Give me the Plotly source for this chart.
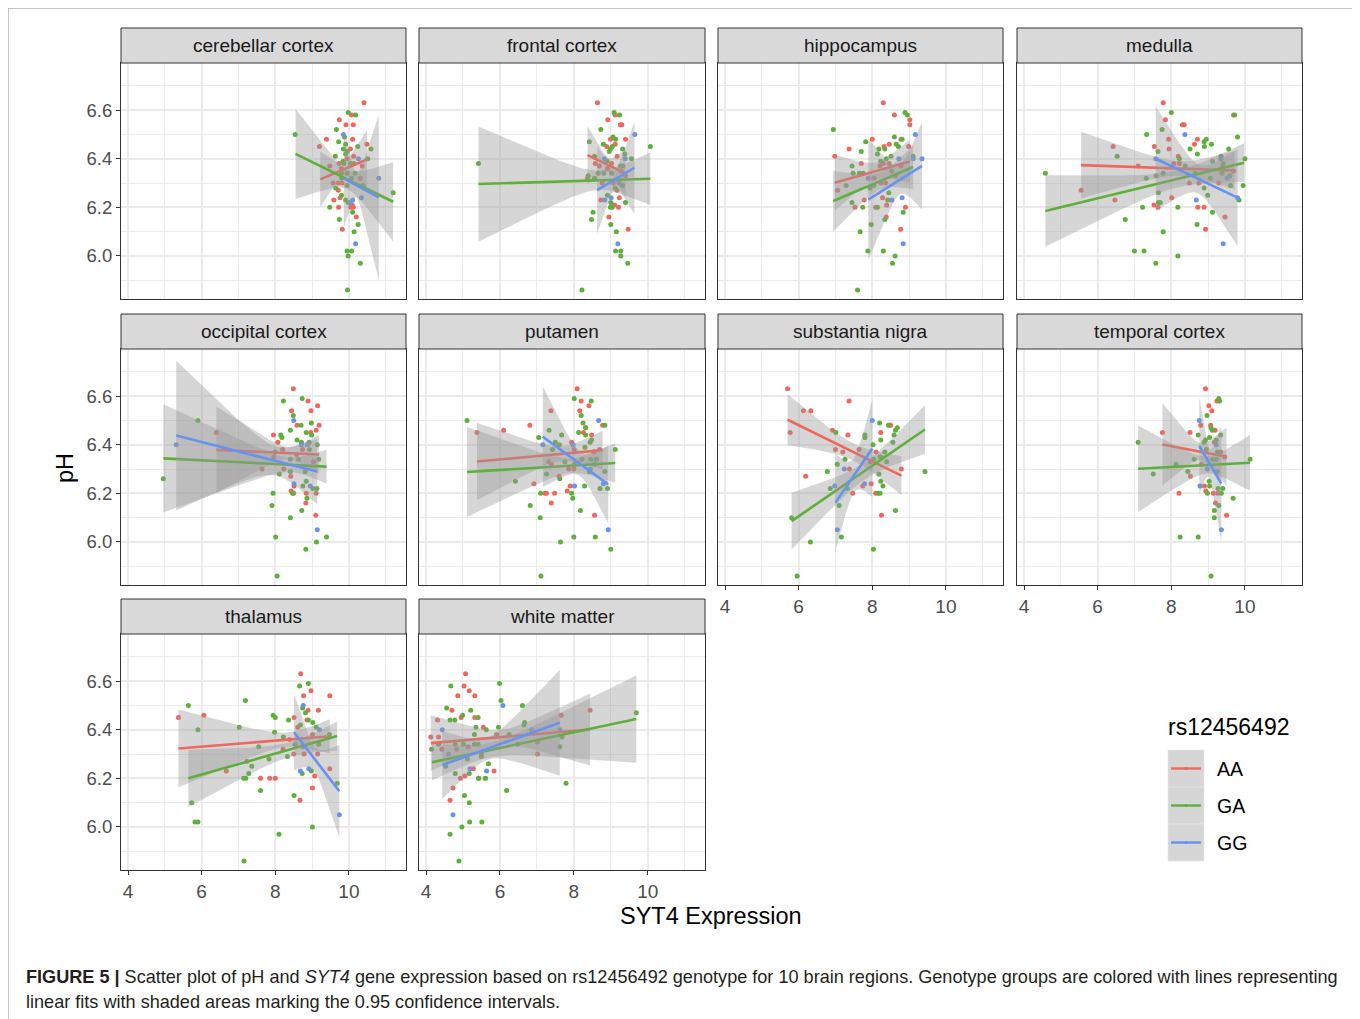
import numpy as np
import plotly.graph_objects as go

W, H = 1360, 1019

regions = ["cerebellar cortex", "frontal cortex", "hippocampus", "medulla",
           "occipital cortex", "putamen", "substantia nigra", "temporal cortex",
           "thalamus", "white matter"]
genotypes = ["AA", "GA", "GG"]
geno_colors = {"AA": "#EF675E", "GA": "#5EAF3B", "GG": "#6892F0"}
x_ticks = [4, 6, 8, 10]
y_ticks = [6.0, 6.2, 6.4, 6.6]
x_range = [3.81, 11.55]
y_range = [5.823, 6.794]

# ---- points: (SYT4 expression, pH) per region and genotype ----
cerebellar_AA = [(10.41,6.63),(10.07,6.58),(9.74,6.56),(9.92,6.54),(10.12,6.54),(9.39,6.48),(10.10,6.48),(9.20,6.45),(10.49,6.46),(10.04,6.44),(10.13,6.41),(9.48,6.37),(9.73,6.38),(10.36,6.37),(10.31,6.32),(9.57,6.30),(9.71,6.30),(9.81,6.30),(9.71,6.27),(9.59,6.23),(9.76,6.24),(9.72,6.20),(10.05,6.20),(10.09,6.21),(10.12,6.20),(10.20,6.16),(9.82,6.11),(9.80,6.36),(9.95,6.40)]
cerebellar_GA = [(9.98,6.59),(10.18,6.58),(9.66,6.52),(8.54,6.50),(9.88,6.49),(9.72,6.47),(9.91,6.46),(10.24,6.45),(9.85,6.44),(10.60,6.44),(9.95,6.43),(9.91,6.42),(9.63,6.41),(10.51,6.40),(9.84,6.39),(9.86,6.38),(10.04,6.38),(10.13,6.38),(9.80,6.34),(9.95,6.34),(10.17,6.34),(10.07,6.32),(9.80,6.32),(10.38,6.29),(9.95,6.29),(9.64,6.28),(9.80,6.25),(9.91,6.23),(9.98,6.22),(9.48,6.20),(10.10,6.18),(9.74,6.15),(10.25,6.13),(10.14,6.10),(9.95,6.02),(10.07,6.02),(9.98,6.00),(10.31,5.97),(9.96,5.86),(11.20,6.26)]
cerebellar_GG = [(9.85,6.50),(10.26,6.40),(10.81,6.32),(10.10,6.23),(10.34,6.24),(10.18,6.05),(10.04,6.22)]

frontal_AA = [(8.64,6.63),(8.92,6.56),(9.12,6.58),(9.26,6.54),(9.30,6.54),(8.99,6.48),(9.40,6.48),(8.89,6.45),(9.12,6.46),(9.17,6.41),(8.58,6.38),(8.69,6.37),(9.02,6.38),(8.91,6.36),(9.28,6.35),(8.37,6.32),(8.77,6.30),(9.07,6.30),(9.17,6.27),(8.73,6.23),(9.23,6.24),(9.10,6.21),(9.21,6.20),(8.95,6.16),(9.47,6.11),(9.40,6.33)]
frontal_GA = [(9.09,6.59),(9.24,6.58),(8.73,6.52),(9.06,6.49),(9.13,6.48),(8.42,6.47),(8.80,6.46),(8.99,6.44),(9.04,6.45),(9.32,6.44),(9.38,6.42),(8.96,6.43),(8.56,6.41),(9.56,6.40),(5.42,6.38),(10.07,6.45),(8.90,6.39),(9.26,6.37),(9.32,6.37),(8.66,6.34),(8.81,6.34),(9.02,6.34),(8.39,6.33),(8.56,6.32),(9.12,6.28),(9.32,6.29),(8.91,6.25),(9.00,6.22),(8.99,6.20),(9.04,6.20),(9.40,6.22),(8.52,6.18),(8.48,6.15),(9.00,6.13),(9.15,6.10),(9.13,6.02),(9.27,6.02),(9.27,6.00),(9.46,5.97),(8.22,5.86)]
frontal_GG = [(9.65,6.50),(8.83,6.40),(9.39,6.40),(8.84,6.23),(9.01,6.24),(9.19,6.05),(9.22,6.30)]

hippocampus_AA = [(8.30,6.63),(8.60,6.58),(9.02,6.56),(9.02,6.54),(8.00,6.48),(8.78,6.48),(7.37,6.44),(8.32,6.45),(8.46,6.46),(8.99,6.45),(6.98,6.41),(7.70,6.38),(8.21,6.37),(8.30,6.38),(8.46,6.38),(8.78,6.37),(7.06,6.27),(8.05,6.32),(8.23,6.30),(8.36,6.30),(7.78,6.23),(7.53,6.20),(8.09,6.20),(8.28,6.24),(8.39,6.21),(8.90,6.20),(8.38,6.16),(8.77,6.11)]
hippocampus_GA = [(8.89,6.59),(8.95,6.58),(6.94,6.52),(8.60,6.49),(8.81,6.48),(7.82,6.47),(8.65,6.46),(8.71,6.45),(8.18,6.44),(8.34,6.44),(7.70,6.43),(8.14,6.42),(8.51,6.41),(9.11,6.41),(8.38,6.40),(8.23,6.39),(7.45,6.37),(7.48,6.34),(7.65,6.34),(7.75,6.34),(7.29,6.29),(7.94,6.28),(8.04,6.29),(8.53,6.35),(8.63,6.33),(8.45,6.26),(7.45,6.22),(7.74,6.20),(8.42,6.23),(8.14,6.20),(8.84,6.18),(8.34,6.15),(7.97,6.13),(7.67,6.10),(7.88,6.02),(8.30,6.02),(8.62,6.00),(8.55,5.97),(7.60,5.86)]
hippocampus_GG = [(9.17,6.50),(8.72,6.40),(9.11,6.40),(9.35,6.40),(7.89,6.32),(8.53,6.23),(8.81,6.24),(8.84,6.05)]

medulla_AA = [(7.78,6.63),(7.84,6.56),(8.30,6.54),(8.35,6.54),(9.69,6.58),(7.93,6.48),(8.71,6.48),(8.63,6.46),(6.42,6.45),(7.54,6.45),(7.94,6.44),(8.19,6.41),(8.07,6.38),(8.22,6.38),(7.10,6.37),(9.40,6.37),(9.69,6.35),(5.55,6.27),(6.47,6.23),(8.01,6.24),(7.53,6.21),(7.64,6.20),(8.49,6.30),(8.75,6.30),(9.29,6.30),(8.72,6.20),(8.89,6.20),(9.46,6.16),(8.93,6.11)]
medulla_GA = [(8.00,6.59),(9.72,6.58),(7.75,6.52),(7.33,6.50),(9.80,6.49),(8.89,6.47),(8.95,6.48),(9.09,6.46),(8.90,6.45),(9.56,6.44),(7.64,6.43),(8.51,6.44),(8.71,6.42),(6.53,6.41),(9.35,6.41),(8.22,6.40),(10.00,6.40),(9.12,6.39),(8.38,6.37),(9.41,6.38),(4.58,6.34),(7.78,6.34),(7.59,6.33),(8.65,6.34),(9.38,6.34),(9.59,6.33),(7.32,6.32),(9.06,6.32),(9.61,6.29),(9.95,6.29),(8.89,6.28),(7.65,6.26),(8.99,6.25),(9.84,6.23),(7.65,6.22),(7.70,6.22),(7.22,6.20),(8.18,6.20),(9.12,6.18),(6.75,6.15),(8.70,6.13),(7.78,6.10),(7.00,6.02),(7.26,6.02),(8.18,6.00),(7.58,5.97)]
medulla_GG = [(8.37,6.50),(7.58,6.40),(9.35,6.40),(9.52,6.32),(8.68,6.23),(9.80,6.24),(9.41,6.05)]

occipital_AA = [(8.49,6.63),(8.89,6.58),(9.15,6.56),(8.44,6.54),(8.97,6.54),(8.59,6.48),(9.19,6.48),(8.96,6.45),(9.11,6.46),(6.40,6.45),(7.95,6.44),(8.07,6.41),(8.20,6.38),(8.74,6.38),(8.58,6.36),(7.96,6.35),(9.04,6.33),(7.64,6.30),(8.23,6.30),(8.42,6.27),(8.51,6.23),(8.43,6.21),(8.50,6.20),(8.84,6.20),(9.11,6.20),(8.83,6.16),(9.10,6.11)]
occipital_GA = [(8.22,6.58),(8.73,6.59),(8.49,6.52),(8.98,6.49),(5.90,6.50),(8.70,6.48),(8.41,6.46),(8.84,6.45),(8.99,6.44),(8.15,6.44),(8.18,6.43),(8.59,6.42),(8.71,6.41),(8.92,6.41),(9.14,6.40),(8.93,6.38),(8.00,6.37),(8.41,6.34),(8.63,6.34),(9.18,6.34),(4.96,6.26),(8.11,6.28),(8.81,6.29),(8.41,6.29),(8.84,6.25),(8.75,6.23),(9.02,6.22),(9.13,6.22),(7.94,6.20),(8.47,6.20),(8.86,6.18),(7.91,6.15),(8.72,6.13),(8.41,6.10),(8.01,6.02),(9.12,6.00),(9.39,6.02),(8.83,5.97),(8.05,5.86)]
occipital_GG = [(5.31,6.40),(8.50,6.50),(8.71,6.40),(8.87,6.40),(8.51,6.24),(8.95,6.23),(9.14,6.05)]

putamen_AA = [(8.09,6.63),(8.20,6.58),(8.41,6.56),(8.16,6.54),(7.38,6.54),(6.81,6.48),(8.78,6.48),(6.10,6.46),(5.38,6.45),(8.26,6.45),(8.32,6.47),(8.48,6.44),(7.94,6.41),(8.01,6.38),(8.54,6.37),(8.70,6.38),(7.32,6.33),(7.39,6.32),(7.86,6.30),(8.00,6.30),(7.60,6.27),(6.92,6.24),(7.90,6.23),(7.82,6.21),(7.22,6.20),(7.26,6.20),(7.48,6.20),(7.39,6.16),(8.56,6.11)]
putamen_GA = [(5.11,6.50),(8.01,6.59),(8.47,6.58),(8.20,6.52),(8.25,6.49),(8.84,6.48),(8.32,6.47),(7.33,6.46),(8.13,6.45),(7.05,6.43),(7.67,6.44),(8.32,6.44),(8.48,6.42),(8.44,6.41),(7.50,6.41),(7.61,6.40),(8.30,6.39),(9.12,6.38),(7.42,6.38),(8.61,6.34),(8.46,6.34),(8.22,6.34),(7.76,6.33),(8.02,6.32),(8.56,6.32),(8.84,6.29),(8.42,6.29),(7.26,6.28),(7.62,6.26),(6.42,6.25),(8.29,6.23),(8.71,6.22),(8.91,6.22),(7.10,6.20),(7.94,6.20),(7.97,6.18),(6.82,6.15),(8.18,6.13),(7.09,6.10),(8.00,6.02),(8.58,6.02),(7.64,6.00),(9.00,5.97),(7.11,5.86)]
putamen_GG = [(8.67,6.50),(7.16,6.40),(7.98,6.40),(8.02,6.23),(8.80,6.24),(8.93,6.05),(8.45,6.30)]

nigra_AA = [(5.70,6.63),(7.37,6.58),(6.13,6.54),(6.33,6.54),(5.77,6.45),(6.92,6.46),(7.34,6.44),(8.23,6.45),(8.47,6.48),(8.50,6.48),(7.00,6.38),(7.20,6.37),(7.64,6.38),(8.10,6.37),(8.23,6.35),(7.95,6.33),(7.38,6.30),(8.79,6.30),(6.19,6.27),(7.74,6.23),(7.97,6.24),(7.47,6.20),(8.09,6.20),(8.25,6.11)]
nigra_GA = [(8.20,6.49),(8.44,6.48),(8.68,6.47),(8.63,6.46),(7.01,6.45),(7.80,6.44),(7.80,6.43),(8.59,6.44),(8.23,6.42),(8.56,6.41),(8.02,6.40),(8.34,6.37),(7.26,6.34),(8.04,6.34),(8.21,6.35),(8.39,6.33),(7.05,6.32),(6.78,6.29),(9.43,6.29),(8.18,6.28),(8.23,6.25),(8.29,6.23),(6.86,6.22),(7.32,6.22),(8.16,6.20),(8.21,6.20),(7.10,6.15),(8.63,6.13),(5.81,6.10),(7.16,6.02),(6.32,6.00),(8.03,5.97),(5.96,5.86)]
nigra_GG = [(8.00,6.50),(7.24,6.30),(6.98,6.23),(7.79,6.24),(7.05,6.05)]

temporal_AA = [(8.93,6.63),(9.02,6.56),(9.10,6.54),(9.24,6.58),(8.80,6.48),(9.07,6.48),(9.19,6.46),(7.76,6.45),(8.51,6.45),(9.17,6.41),(9.34,6.37),(9.45,6.35),(8.82,6.32),(8.52,6.27),(8.90,6.23),(8.94,6.21),(9.14,6.20),(9.26,6.20),(8.21,6.20),(9.20,6.16),(9.50,6.11)]
temporal_GA = [(9.29,6.59),(9.31,6.58),(8.97,6.52),(9.08,6.47),(9.11,6.46),(8.73,6.44),(9.04,6.43),(8.93,6.42),(9.34,6.44),(7.10,6.41),(9.22,6.42),(8.89,6.41),(8.95,6.38),(9.25,6.37),(8.62,6.34),(9.12,6.34),(9.22,6.34),(10.14,6.34),(8.13,6.32),(7.51,6.28),(8.45,6.29),(9.25,6.29),(9.03,6.25),(9.04,6.23),(9.27,6.22),(9.40,6.22),(8.98,6.20),(9.36,6.20),(9.68,6.18),(9.29,6.15),(9.17,6.13),(9.17,6.10),(8.24,6.02),(8.73,6.02),(9.08,5.86)]
temporal_GG = [(8.76,6.50),(9.22,6.40),(8.98,6.30),(8.78,6.23),(9.36,6.05)]

thalamus_AA = [(8.69,6.63),(8.77,6.54),(8.97,6.56),(9.48,6.54),(5.37,6.45),(6.06,6.46),(8.51,6.45),(8.89,6.48),(9.17,6.48),(8.86,6.44),(8.61,6.41),(8.39,6.36),(9.01,6.38),(8.75,6.33),(8.21,6.32),(8.50,6.30),(8.78,6.30),(9.15,6.30),(7.23,6.27),(6.67,6.23),(7.60,6.20),(7.85,6.20),(8.00,6.20),(9.48,6.24),(9.07,6.21),(9.01,6.16),(8.67,6.11)]
thalamus_GA = [(8.66,6.58),(8.90,6.59),(5.64,6.50),(7.19,6.52),(8.74,6.49),(8.82,6.47),(7.94,6.46),(8.00,6.45),(8.36,6.44),(8.90,6.44),(9.02,6.43),(8.68,6.42),(9.11,6.41),(5.90,6.40),(7.02,6.41),(7.98,6.39),(8.22,6.37),(9.47,6.38),(7.55,6.33),(8.54,6.34),(9.18,6.34),(7.83,6.28),(8.33,6.29),(7.36,6.25),(7.28,6.22),(7.14,6.20),(7.20,6.20),(8.73,6.22),(8.98,6.23),(9.68,6.18),(7.60,6.15),(8.51,6.13),(5.73,6.10),(5.82,6.02),(5.90,6.02),(9.01,6.00),(8.10,5.97),(7.15,5.86)]
thalamus_GG = [(8.76,6.50),(9.20,6.40),(8.91,6.24),(8.68,6.23),(9.74,6.05)]

white_AA = [(5.07,6.63),(5.03,6.58),(5.17,6.56),(4.86,6.54),(5.32,6.54),(4.70,6.48),(4.31,6.44),(4.95,6.45),(5.32,6.45),(5.55,6.41),(4.13,6.37),(4.34,6.37),(5.91,6.38),(8.44,6.48),(7.66,6.46),(4.43,6.32),(4.83,6.32),(5.14,6.33),(7.02,6.35),(7.02,6.30),(5.50,6.30),(5.28,6.24),(5.84,6.23),(4.93,6.20),(5.05,6.21),(5.42,6.20),(5.60,6.20),(4.73,6.16),(4.65,6.11)]
white_GA = [(4.67,6.58),(5.99,6.59),(4.56,6.49),(6.03,6.52),(6.61,6.50),(5.21,6.48),(4.99,6.46),(4.65,6.44),(4.78,6.44),(5.41,6.45),(9.69,6.47),(6.67,6.43),(6.65,6.42),(5.35,6.41),(5.96,6.41),(5.63,6.40),(5.31,6.38),(6.25,6.38),(7.68,6.37),(4.34,6.34),(4.79,6.34),(5.01,6.34),(5.31,6.34),(5.41,6.34),(4.15,6.32),(6.48,6.34),(7.62,6.33),(5.12,6.28),(5.50,6.29),(5.69,6.26),(4.53,6.25),(4.79,6.22),(5.17,6.22),(5.43,6.20),(5.61,6.20),(7.79,6.18),(6.18,6.15),(5.04,6.13),(5.17,6.10),(5.18,6.02),(5.51,6.02),(4.97,6.00),(4.65,5.97),(4.89,5.86)]
white_GG = [(6.08,6.50),(4.44,6.40),(6.86,6.40),(7.62,6.40),(4.61,6.30),(5.19,6.24),(5.64,6.23),(4.73,6.05)]

points = {
    "cerebellar cortex": {"AA": cerebellar_AA, "GA": cerebellar_GA, "GG": cerebellar_GG},
    "frontal cortex": {"AA": frontal_AA, "GA": frontal_GA, "GG": frontal_GG},
    "hippocampus": {"AA": hippocampus_AA, "GA": hippocampus_GA, "GG": hippocampus_GG},
    "medulla": {"AA": medulla_AA, "GA": medulla_GA, "GG": medulla_GG},
    "occipital cortex": {"AA": occipital_AA, "GA": occipital_GA, "GG": occipital_GG},
    "putamen": {"AA": putamen_AA, "GA": putamen_GA, "GG": putamen_GG},
    "substantia nigra": {"AA": nigra_AA, "GA": nigra_GA, "GG": nigra_GG},
    "temporal cortex": {"AA": temporal_AA, "GA": temporal_GA, "GG": temporal_GG},
    "thalamus": {"AA": thalamus_AA, "GA": thalamus_GA, "GG": thalamus_GG},
    "white matter": {"AA": white_AA, "GA": white_GA, "GG": white_GG},
}

# ---- linear fits: (x_start, x_end, y_start, y_end,
#      CI half-width at start, minimum CI half-width, CI half-width at end) ----
fit_AA = [(9.22,10.49,6.315,6.397,0.115,0.03,0.12),
          (8.37,9.40,6.415,6.340,0.12,0.03,0.10),
          (6.98,9.02,6.301,6.389,0.115,0.035,0.09),
          (5.55,9.72,6.374,6.352,0.137,0.03,0.08),
          (6.40,9.19,6.379,6.360,0.178,0.025,0.08),
          (5.38,8.78,6.331,6.378,0.159,0.03,0.08),
          (5.70,8.79,6.503,6.273,0.105,0.035,0.08),
          (7.76,9.50,6.401,6.351,0.17,0.035,0.12),
          (5.37,9.48,6.323,6.373,0.16,0.03,0.07),
          (4.13,8.44,6.345,6.401,0.115,0.03,0.148)]
fit_GA = [(8.55,11.20,6.420,6.223,0.186,0.04,0.163),
          (5.42,10.07,6.296,6.318,0.237,0.04,0.108),
          (6.94,9.11,6.226,6.366,0.125,0.035,0.09),
          (4.58,9.98,6.185,6.384,0.147,0.035,0.08),
          (4.96,9.39,6.344,6.310,0.223,0.03,0.069),
          (5.11,9.12,6.288,6.325,0.185,0.03,0.082),
          (5.81,9.43,6.086,6.463,0.117,0.035,0.10),
          (7.10,10.14,6.301,6.326,0.178,0.035,0.115),
          (5.64,9.68,6.200,6.374,0.118,0.03,0.06),
          (4.16,9.69,6.266,6.444,0.075,0.03,0.18)]
fit_GG = [(9.86,10.81,6.319,6.241,0.20,0.05,0.34),
          (8.63,9.64,6.271,6.363,0.18,0.04,0.19),
          (7.89,9.35,6.232,6.371,0.25,0.06,0.18),
          (7.58,9.80,6.400,6.240,0.215,0.06,0.20),
          (5.31,9.14,6.438,6.290,0.308,0.06,0.135),
          (7.16,8.93,6.433,6.237,0.207,0.05,0.16),
          (7.00,8.00,6.162,6.385,0.20,0.07,0.20),
          (8.76,9.36,6.395,6.240,0.20,0.06,0.24),
          (8.51,9.74,6.390,6.147,0.157,0.05,0.19),
          (4.44,7.62,6.255,6.429,0.14,0.045,0.218)]
fits = {"AA": fit_AA, "GA": fit_GA, "GG": fit_GG}

# ---- layout geometry (screen pixels; page has an 8px body margin) ----
col_px = [(121, 406), (419, 705), (718, 1003), (1017, 1302)]
row_px = [(63, 299), (349, 585), (634, 870)]
strip_h = 35
OFF = 8


def fx(px):
    return (px - OFF) / W


def fy(py):
    return 1 - (py - OFF) / H


def band(fit):
    x0, x1, y0, y1, h0, hm, h1 = fit
    d0 = np.sqrt(max(h0 ** 2 - hm ** 2, 1e-9))
    d1 = np.sqrt(max(h1 ** 2 - hm ** 2, 1e-9))
    xm = (x0 * d1 + x1 * d0) / (d0 + d1)
    b = (d0 + d1) / (x1 - x0)
    xs = np.linspace(x0, x1, 80)
    ys = y0 + (y1 - y0) * (xs - x0) / (x1 - x0)
    hw = np.sqrt(hm ** 2 + (b * (xs - xm)) ** 2)
    return xs, ys, ys + hw, ys - hw


FONT = "Liberation Sans, Arial, Helvetica, sans-serif"
fig = go.Figure()
layout = dict(width=W, height=H, margin=dict(l=0, r=0, t=0, b=0),
              paper_bgcolor="white", plot_bgcolor="white", showlegend=False,
              font=dict(family=FONT))
shapes = []
annotations = []

for i, reg in enumerate(regions):
    r, c = divmod(i, 4)
    n = i + 1
    xa = "x" if n == 1 else f"x{n}"
    ya = "y" if n == 1 else f"y{n}"
    (cx0, cx1), (ry0, ry1) = col_px[c], row_px[r]
    show_x = reg in ("substantia nigra", "temporal cortex", "thalamus", "white matter")
    show_y = c == 0
    layout["xaxis" if n == 1 else f"xaxis{n}"] = dict(
        domain=[fx(cx0), fx(cx1)], range=x_range, anchor=ya,
        tickvals=x_ticks, ticktext=[str(v) for v in x_ticks],
        showticklabels=show_x, ticks="outside" if show_x else "",
        ticklen=4, tickcolor="#333333", tickwidth=1,
        tickfont=dict(size=19, color="#4D4D4D", family=FONT),
        showgrid=True, gridcolor="#EBEBEB", gridwidth=1.6,
        minor=dict(tickvals=[5, 7, 9, 11], showgrid=True, gridcolor="#EBEBEB", gridwidth=0.8),
        showline=True, linecolor="#333333", linewidth=1, mirror=True, zeroline=False)
    layout["yaxis" if n == 1 else f"yaxis{n}"] = dict(
        domain=[fy(ry1), fy(ry0)], range=y_range, anchor=xa,
        tickvals=y_ticks, ticktext=[f"{v:.1f}" for v in y_ticks],
        showticklabels=show_y, ticks="outside" if show_y else "",
        ticklen=4, tickcolor="#333333", tickwidth=1,
        tickfont=dict(size=18.5, color="#4D4D4D", family=FONT),
        showgrid=True, gridcolor="#EBEBEB", gridwidth=1.6,
        minor=dict(tickvals=[5.9, 6.1, 6.3, 6.5, 6.7], showgrid=True, gridcolor="#EBEBEB", gridwidth=0.8),
        showline=True, linecolor="#333333", linewidth=1, mirror=True, zeroline=False)

    # points first
    for g in genotypes:
        pts = points[reg][g]
        fig.add_trace(go.Scatter(x=[p[0] for p in pts], y=[p[1] for p in pts],
                                 mode="markers", xaxis=xa, yaxis=ya,
                                 marker=dict(size=5, color=geno_colors[g], line=dict(width=0)),
                                 hoverinfo="skip"))
    # smooth: ribbon then line for each group
    for g in genotypes:
        xs, ys, up, lo = band(fits[g][i])
        fig.add_trace(go.Scatter(x=np.concatenate([xs, xs[::-1]]),
                                 y=np.concatenate([up, lo[::-1]]),
                                 mode="lines", fill="toself", fillcolor="rgba(153,153,153,0.4)",
                                 line=dict(width=0), xaxis=xa, yaxis=ya, hoverinfo="skip"))
        fig.add_trace(go.Scatter(x=[xs[0], xs[-1]], y=[ys[0], ys[-1]], mode="lines",
                                 line=dict(color=geno_colors[g], width=2.6),
                                 xaxis=xa, yaxis=ya, hoverinfo="skip"))

    # strip
    shapes.append(dict(type="rect", xref="paper", yref="paper",
                       x0=fx(cx0), x1=fx(cx1), y0=fy(ry0), y1=fy(ry0 - strip_h),
                       fillcolor="#D9D9D9", line=dict(color="#333333", width=1), layer="above"))
    annotations.append(dict(text=reg, xref="paper", yref="paper",
                            x=fx((cx0 + cx1) / 2), y=fy(ry0 - strip_h / 2),
                            showarrow=False, xanchor="center", yanchor="middle",
                            font=dict(size=19, color="#1A1A1A", family=FONT)))

# axis titles
annotations.append(dict(text="pH", xref="paper", yref="paper", x=fx(65), y=fy(468),
                        showarrow=False, textangle=-90, xanchor="center", yanchor="middle",
                        font=dict(size=23.5, color="black", family=FONT)))
annotations.append(dict(text="SYT4 Expression", xref="paper", yref="paper", x=fx(711), y=fy(916),
                        showarrow=False, xanchor="center", yanchor="middle",
                        font=dict(size=23.5, color="black", family=FONT)))

# legend
annotations.append(dict(text="rs12456492", xref="paper", yref="paper", x=fx(1166), y=fy(727),
                        showarrow=False, xanchor="left", yanchor="middle",
                        font=dict(size=23, color="black", family=FONT)))
key_top = 750
for k, g in enumerate(genotypes):
    ky0 = key_top + k * 37
    shapes.append(dict(type="rect", xref="paper", yref="paper",
                       x0=fx(1168), x1=fx(1204), y0=fy(ky0 + 37), y1=fy(ky0),
                       fillcolor="#D6D6D6", line=dict(color="#E6E6E6", width=0.6)))
    cy = ky0 + 18.5
    shapes.append(dict(type="line", xref="paper", yref="paper",
                       x0=fx(1171), x1=fx(1201), y0=fy(cy), y1=fy(cy),
                       line=dict(color=geno_colors[g], width=2.4)))
    shapes.append(dict(type="circle", xref="paper", yref="paper",
                       x0=fx(1184.5), x1=fx(1187.5), y0=fy(cy + 1.5), y1=fy(cy - 1.5),
                       fillcolor=geno_colors[g], line=dict(width=0)))
    annotations.append(dict(text=g, xref="paper", yref="paper", x=fx(1215), y=fy(cy),
                            showarrow=False, xanchor="left", yanchor="middle",
                            font=dict(size=19.5, color="black", family=FONT)))

# outer frame
shapes.append(dict(type="rect", xref="paper", yref="paper",
                   x0=fx(8), x1=fx(1356), y0=fy(1040), y1=fy(8),
                   line=dict(color="#8C8C8C", width=1), fillcolor="rgba(0,0,0,0)"))

# caption
annotations.append(dict(
    text="<b>FIGURE 5 |</b> Scatter plot of pH and <i>SYT4</i> gene expression based on rs12456492 genotype for 10 brain regions. Genotype groups are colored with lines representing",
    xref="paper", yref="paper", x=fx(24), y=fy(977), showarrow=False,
    xanchor="left", yanchor="middle", font=dict(size=18.1, color="#231F20", family=FONT)))
annotations.append(dict(
    text="linear fits with shaded areas marking the 0.95 confidence intervals.",
    xref="paper", yref="paper", x=fx(24), y=fy(1002), showarrow=False,
    xanchor="left", yanchor="middle", font=dict(size=18.1, color="#231F20", family=FONT)))

layout["shapes"] = shapes
layout["annotations"] = annotations
fig.update_layout(**layout)
fig.write_html("out.html")
